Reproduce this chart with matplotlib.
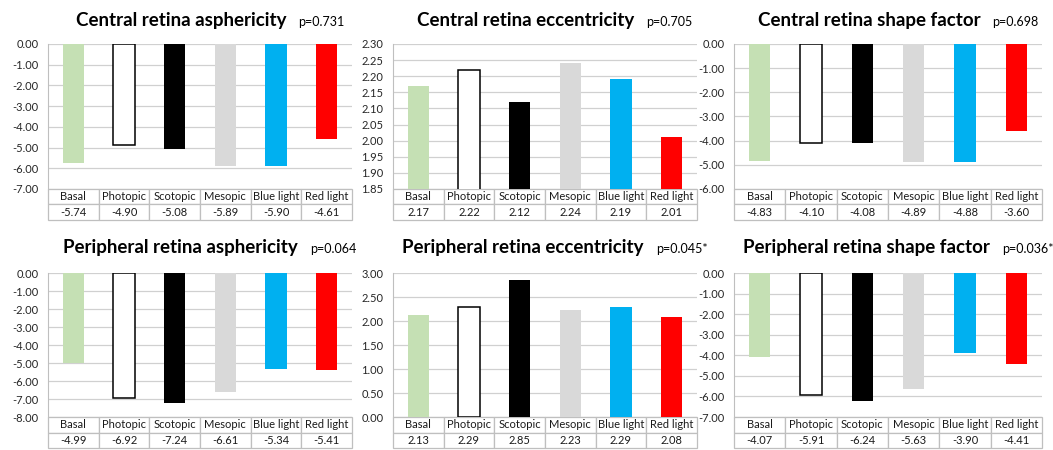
import numpy as np
import matplotlib.pyplot as plt

plt.rcParams['font.family'] = ['Lato', 'DejaVu Sans']

categories = ['Basal', 'Photopic', 'Scotopic', 'Mesopic', 'Blue light', 'Red light']
bar_colors = ['#C5E0B4', '#FFFFFF', '#000000', '#D9D9D9', '#00B0F0', '#FF0000']
edge_colors = ['none', '#000000', 'none', 'none', 'none', 'none']

central_asph = [-5.74, -4.90, -5.08, -5.89, -5.90, -4.61]
central_ecc = [2.17, 2.22, 2.12, 2.24, 2.19, 2.01]
central_shape = [-4.83, -4.10, -4.08, -4.89, -4.88, -3.60]
periph_asph = [-4.99, -6.92, -7.24, -6.61, -5.34, -5.41]
periph_ecc = [2.13, 2.29, 2.85, 2.23, 2.29, 2.08]
periph_shape = [-4.07, -5.91, -6.24, -5.63, -3.90, -4.41]

titles = ['Central retina asphericity', 'Central retina eccentricity', 'Central retina shape factor',
          'Peripheral retina asphericity', 'Peripheral retina eccentricity', 'Peripheral retina shape factor']
p_values = ['p=0.731', 'p=0.705', 'p=0.698', 'p=0.064', 'p=0.045*', 'p=0.036*']
series = [central_asph, central_ecc, central_shape, periph_asph, periph_ecc, periph_shape]
y_ranges = [(-7.0, 0.0, 1.0), (1.85, 2.30, 0.05), (-6.0, 0.0, 1.0),
            (-8.0, 0.0, 1.0), (0.0, 3.0, 0.5), (-7.0, 0.0, 1.0)]

W, H = 1053, 450
col_px = [(48, 352), (393, 697), (734, 1042)]
row_px = [(44, 189), (273, 417)]
table_h = 31

fig = plt.figure(figsize=(W / 100, H / 100), dpi=100)
fig.patch.set_facecolor('white')

axes = []
for i, vals in enumerate(series):
    r, c = divmod(i, 3)
    x0, x1 = col_px[c]
    top, bot = row_px[r]
    ax = fig.add_axes([x0 / W, 1 - bot / H, (x1 - x0) / W, (bot - top) / H])
    axes.append(ax)

    x = np.arange(len(categories))
    ax.bar(x, vals, width=0.42, color=bar_colors, edgecolor=edge_colors, linewidth=1.1, zorder=3)

    lo, hi, step = y_ranges[i]
    ax.set_ylim(lo, hi)
    ax.set_xlim(-0.5, len(categories) - 0.5)
    ticks = np.arange(lo, hi + step / 2, step)
    ax.set_yticks(ticks)
    ax.set_yticklabels(['%.2f' % t for t in ticks], fontsize=8, color='#262626')
    ax.set_xticks([])
    ax.tick_params(axis='y', length=0, pad=7)
    ax.yaxis.grid(True, color='#D0D0D0', linewidth=0.9)
    ax.set_axisbelow(True)
    for s in ['top', 'right', 'bottom']:
        ax.spines[s].set_visible(False)
    ax.spines['left'].set_color('#BFBFBF')

    # data table under the bars
    frac = table_h / (bot - top)
    tbl = ax.table(cellText=[categories, ['%.2f' % v for v in vals]],
                   cellLoc='center', bbox=[0, -frac, 1, frac])
    tbl.auto_set_font_size(False)
    tbl.set_fontsize(8)
    for cell in tbl.get_celld().values():
        cell.set_edgecolor('#BFBFBF')
        cell.set_linewidth(0.9)
        cell.get_text().set_color('#1a1a1a')

# titles with the p-value right after, block centred over each panel
renderer = fig.canvas.get_renderer()
for i, ax in enumerate(axes):
    r, c = divmod(i, 3)
    x0, x1 = col_px[c]
    base_y = 26 if r == 0 else 253
    t = fig.text(0, 1 - base_y / H, titles[i], fontsize=13.5, fontweight='bold',
                 va='baseline', ha='left')
    p = fig.text(0, 1 - base_y / H, p_values[i], fontsize=9, va='baseline', ha='left')
    tw = t.get_window_extent(renderer).width
    pw = p.get_window_extent(renderer).width
    gap = 12
    start = (x0 + x1) / 2 + 10 - (tw + gap + pw) / 2
    t.set_x(start / W)
    p.set_x((start + tw + gap) / W)

fig.savefig('out.png', dpi=100, facecolor='white')
